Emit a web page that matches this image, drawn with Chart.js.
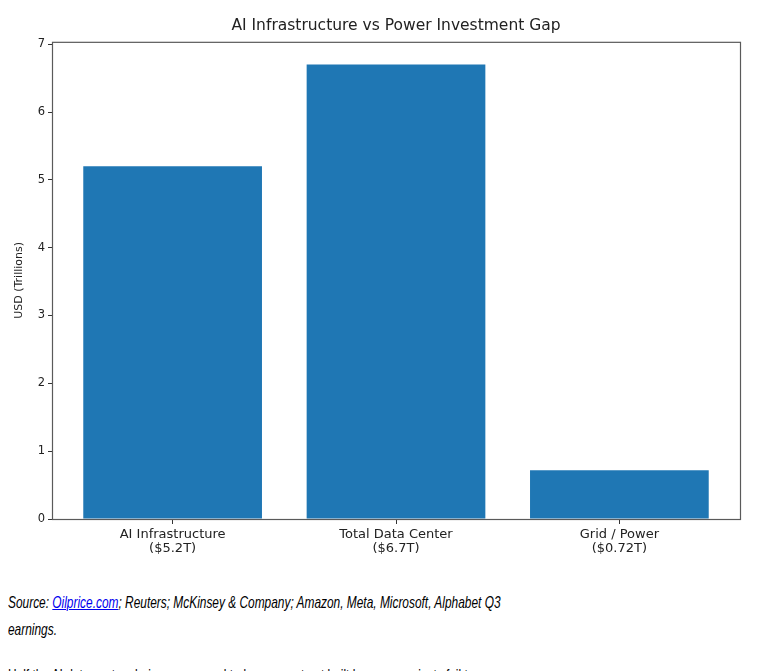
<!DOCTYPE html>
<html>
<head>
    <title>AI Infrastructure vs Power Investment Gap</title>
    <script src="https://cdn.jsdelivr.net/npm/chart.js"></script>
    <style>
        body {
            margin: 0;
            background: #fff;
            width: 768px;
            overflow: hidden;
        }
        .chart-box {
            width: 768px;
            height: 570px;
            position: relative;
        }
        .notes {
            font-family: "Liberation Sans", Arial, sans-serif;
            font-size: 17px;
            line-height: 27px;
            color: #000;
            padding: 0 8px;
        }
        .notes p {
            width: 740px;
            margin: 19px 0 9px 0;
            transform: scaleX(0.7);
            transform-origin: left top;
        }
        .notes a {
            color: #0000ee;
        }
    </style>
</head>
<body>
    <div class="chart-box">
        <canvas id="gapChart"></canvas>
    </div>
    <div class="notes">
        <p><i>Source: <a href="#">Oilprice.com</a>; Reuters; McKinsey &amp; Company; Amazon, Meta, Microsoft, Alphabet Q3 earnings.</i></p>
        <p>Half the AI data centers being announced today may not get built because projects fail to</p>
    </div>

    <script>
        const categories = ['AI Infrastructure', 'Total Data Center', 'Grid / Power'];
        const amountLabels = ['($5.2T)', '($6.7T)', '($0.72T)'];
        const investment = [5.2, 6.7, 0.72];
        const yTicks = [0, 1, 2, 3, 4, 5, 6, 7];

        // full frame around the plot, like matplotlib spines
        const frame = {
            id: 'frame',
            afterDraw(chart) {
                const a = chart.chartArea;
                const ctx = chart.ctx;
                ctx.save();
                ctx.strokeStyle = '#5a5a5a';
                ctx.lineWidth = 1.2;
                ctx.strokeRect(a.left + 0.5, a.top + 0.5, a.right - a.left, a.bottom - a.top);
                ctx.restore();
            }
        };

        const ctx = document.getElementById('gapChart').getContext('2d');

        new Chart(ctx, {
            type: 'bar',
            data: {
                datasets: [{
                    data: investment.map((v, i) => ({ x: i, y: v })),
                    backgroundColor: '#1f77b4',
                    borderWidth: 0,
                    barPercentage: 0.8,
                    categoryPercentage: 1.0
                }]
            },
            options: {
                responsive: true,
                maintainAspectRatio: false,
                animation: false,
                layout: {
                    padding: { left: 0, right: 28, top: 0, bottom: 0 }
                },
                plugins: {
                    legend: { display: false },
                    tooltip: { enabled: false },
                    title: {
                        display: true,
                        fullSize: false,
                        text: 'AI Infrastructure vs Power Investment Gap',
                        color: '#222',
                        font: { family: 'DejaVu Sans', size: 15.5, weight: 'normal', lineHeight: 1.15 },
                        padding: { top: 17, bottom: 7 }
                    }
                },
                scales: {
                    x: {
                        type: 'linear',
                        min: -0.54,
                        max: 2.54,
                        offset: false,
                        afterBuildTicks: s => { s.ticks = categories.map((c, i) => ({ value: i })); },
                        afterFit: s => { s.height = 51; },
                        grid: {
                            offset: false,
                            drawOnChartArea: false,
                            drawTicks: true,
                            tickLength: 5,
                            tickWidth: 1,
                            tickColor: '#333',
                            color: '#333'
                        },
                        border: { display: false },
                        ticks: {
                            color: '#222',
                            font: { family: 'DejaVu Sans', size: 13, lineHeight: 1.1 },
                            padding: 3,
                            maxRotation: 0,
                            callback: v => [categories[v], amountLabels[v]]
                        }
                    },
                    y: {
                        min: 0,
                        max: 7.035,
                        afterBuildTicks: s => { s.ticks = yTicks.map(v => ({ value: v })); },
                        afterFit: s => { s.width = 52; },
                        grid: {
                            drawOnChartArea: false,
                            drawTicks: true,
                            tickLength: 4,
                            tickColor: '#333',
                            color: '#333'
                        },
                        border: { display: false },
                        ticks: {
                            color: '#222',
                            font: { family: 'DejaVu Sans', size: 11.5 },
                            padding: 3
                        },
                        title: {
                            display: true,
                            text: 'USD (Trillions)',
                            color: '#222',
                            font: { family: 'DejaVu Sans', size: 11 },
                            padding: { top: 13, bottom: 0 }
                        }
                    }
                }
            },
            plugins: [frame]
        });
    </script>
</body>
</html>
